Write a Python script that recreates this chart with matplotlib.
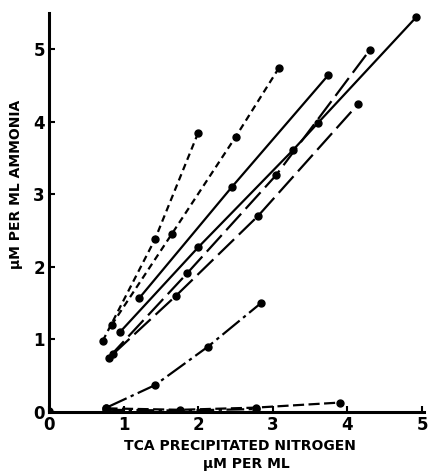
import matplotlib
matplotlib.use("Agg")
import matplotlib.pyplot as plt

# valeurs (x = azote precipite TCA, y = ammoniac, uM/ml)
steep_x = [0.72, 1.42, 2.00]
steep_y = [0.98, 2.38, 3.85]

short_x = [0.84, 1.65, 2.50, 3.08]
short_y = [1.20, 2.46, 3.79, 4.74]

solid_a_x = [1.21, 2.45, 3.74]
solid_a_y = [1.57, 3.10, 4.64]

solid_b_x = [0.95, 2.00, 3.27, 3.61, 4.92]
solid_b_y = [1.10, 2.27, 3.61, 3.99, 5.44]

long_a_x = [0.80, 1.85, 3.04, 4.30]
long_a_y = [0.75, 1.91, 3.26, 4.99]

long_b_x = [0.86, 1.70, 2.80, 4.14]
long_b_y = [0.80, 1.60, 2.70, 4.24]

low_x = [0.77, 1.42, 2.13, 2.84]
low_y = [0.06, 0.37, 0.90, 1.50]

flat_a_x = [0.77, 1.76, 2.77, 3.90]
flat_a_y = [0.05, 0.03, 0.06, 0.13]

flat_b_x = [0.77, 1.76, 2.77]
flat_b_y = [0.03, 0.02, 0.04]

origin_x = [0.0]
origin_y = [0.01]

fig = plt.figure(figsize=(4.28, 4.73), dpi=100)
ax = fig.add_axes([0.1145, 0.129, 0.875, 0.8435])

kw = dict(color="black", lw=1.6, marker="o", ms=5)
ax.plot(steep_x, steep_y, dashes=(3, 2), **kw)
ax.plot(short_x, short_y, dashes=(3, 2), **kw)
ax.plot(solid_a_x, solid_a_y, **kw)
ax.plot(solid_b_x, solid_b_y, **kw)
ax.plot(long_a_x, long_a_y, dashes=(10, 3), **kw)
ax.plot(long_b_x, long_b_y, dashes=(10, 3), **kw)
ax.plot(low_x, low_y, dashes=(10, 2, 1.5, 2), **kw)
ax.plot(flat_a_x, flat_a_y, dashes=(5, 2), **kw)
ax.plot(flat_b_x, flat_b_y, dashes=(8, 2, 1.5, 2), **kw)
ax.plot(origin_x, origin_y, **kw)

ax.set_xlim(0, 5.02)
ax.set_ylim(0, 5.5)
ax.set_xticks([0, 1, 2, 3, 4, 5])
ax.set_yticks([0, 1, 2, 3, 4, 5])
for s in ["top", "right"]:
    ax.spines[s].set_visible(False)
for s in ["left", "bottom"]:
    ax.spines[s].set_linewidth(2.2)
ax.tick_params(direction="in", length=4, width=1.5, labelsize=12, pad=3)
for lab in ax.get_xticklabels() + ax.get_yticklabels():
    lab.set_fontweight("bold")

fig.text(0.56, 0.057, "TCA PRECIPITATED NITROGEN", ha="center", va="center",
         fontsize=10, fontweight="bold")
fig.text(0.575, 0.019, "\u00b5M PER ML", ha="center", va="center",
         fontsize=10, fontweight="bold")
fig.text(0.038, 0.61, "\u00b5M PER ML AMMONIA", ha="center", va="center",
         rotation=90, fontsize=10, fontweight="bold")

fig.savefig("out.png", dpi=100)
